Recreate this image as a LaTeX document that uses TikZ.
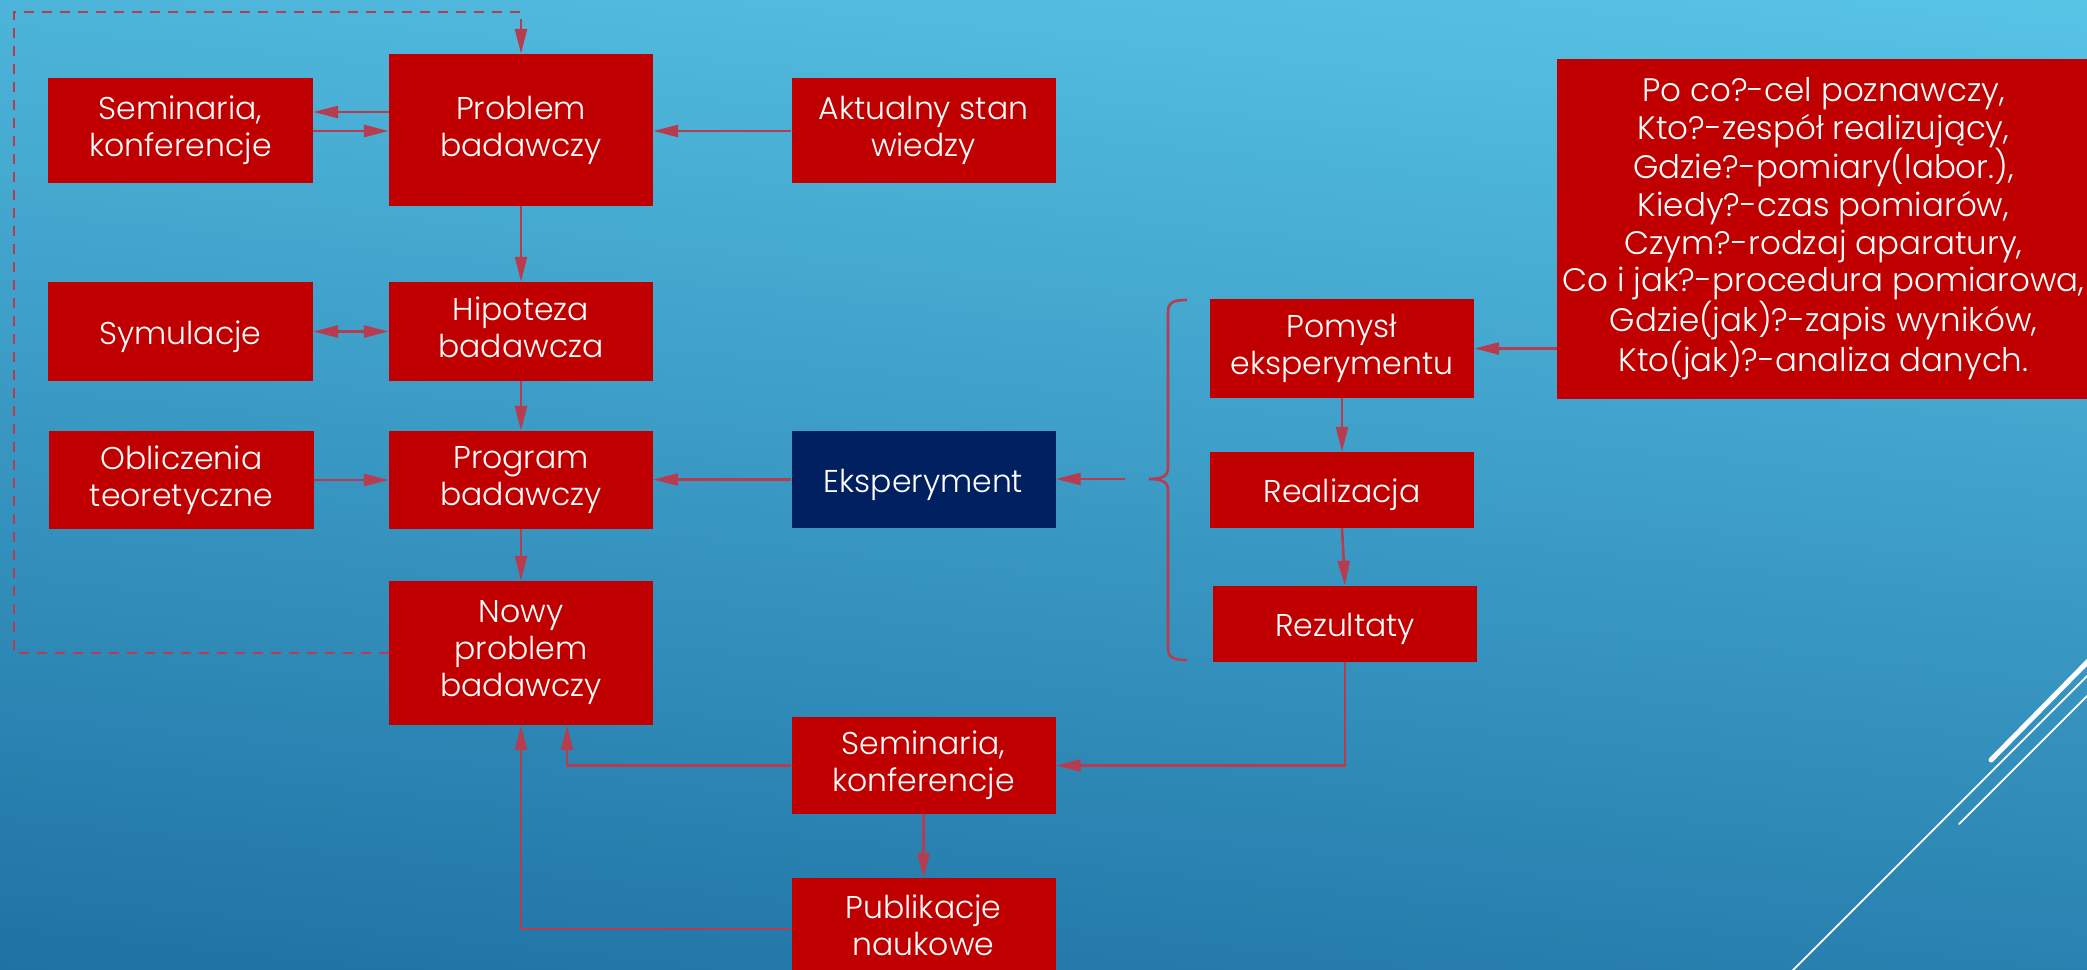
\documentclass[tikz,border=0pt]{standalone}
\usepackage{fontspec}
\setmainfont{Poppins Light}
\usetikzlibrary{arrows.meta}
\definecolor{boxred}{RGB}{192,0,0}
\definecolor{boxnavy}{RGB}{0,32,96}
\definecolor{linkred}{RGB}{184,60,80}
\definecolor{bgtop}{RGB}{88,196,230}
\definecolor{bgbot}{RGB}{30,114,164}
\begin{document}
\begin{tikzpicture}[x=1pt,y=-1pt,
  boxbase/.style={fill=boxred, text=white, align=center, inner sep=0pt,
    font=\fontsize{31.5}{37}\selectfont},
  box/.style={boxbase,
    execute at begin node={\rule{0pt}{34pt}},
    execute at end node={\rule[-8pt]{0pt}{8pt}}},
  bigtext/.style={font=\fontsize{32.5}{37.7}\selectfont},
  navybox/.style={box, fill=boxnavy},
  link/.style={draw=linkred, line width=2.6pt, -{Triangle[length=25pt,width=12pt]}},
  dlink/.style={link, {Triangle[length=25pt,width=12pt]}-{Triangle[length=25pt,width=12pt]}},
  dashlink/.style={link, dash pattern=on 10pt off 8pt},
  bracestyle/.style={draw=linkred, line width=2.6pt},
  deco/.style={draw=white, line cap=round}]
\useasboundingbox (0,0) rectangle (2087,969);
\clip (0,0) rectangle (2087,969);
\shade[top color=bgtop, bottom color=bgbot, shading angle=-6] (-60,-60) rectangle (2147,1029);

% decorative lines
\draw[deco, line width=5pt] (1991,760) -- (2110,639);
\draw[deco, line width=1.8pt] (1790,973) -- (2110,653);
\draw[deco, line width=1.8pt] (1959,824) -- (2110,673);

% boxes
\node[box, minimum width=265pt, minimum height=105pt] (sem1) at (180.5,130.5) {Seminaria,\\konferencje};
\node[box, minimum width=264pt, minimum height=152pt] (prob) at (521,130) {Problem\\badawczy};
\node[box, minimum width=264pt, minimum height=105pt] (akt) at (923.5,130) {Aktualny stan\\wiedzy};
\node[boxbase, bigtext, minimum width=533pt, minimum height=340pt] (poco) at (1823.5,228.5) {Po co?-cel poznawczy,\\Kto?-zespół realizujący,\\Gdzie?-pomiary(labor.),\\Kiedy?-czas pomiarów,\\Czym?-rodzaj aparatury,\\Co i jak?-procedura pomiarowa,\\Gdzie(jak)?-zapis wyników,\\Kto(jak)?-analiza danych.};
\node[box, minimum width=265pt, minimum height=99pt] (sym) at (180.5,331.5) {Symulacje};
\node[box, minimum width=264pt, minimum height=99pt] (hip) at (521,331.5) {Hipoteza\\badawcza};
\node[box, minimum width=264pt, minimum height=99pt] (pom) at (1342,348.5) {Pomysł\\eksperymentu};
\node[box, minimum width=265pt, minimum height=98pt] (obl) at (181.5,480) {Obliczenia\\teoretyczne};
\node[box, minimum width=264pt, minimum height=98pt] (prog) at (521,480) {Program\\badawczy};
\node[navybox, minimum width=264pt, minimum height=97pt] (eks) at (923.5,479.5) {Eksperyment};
\node[box, minimum width=264pt, minimum height=76pt] (real) at (1342,490) {Realizacja};
\node[box, minimum width=264pt, minimum height=144pt] (nowy) at (521,653) {Nowy\\problem\\badawczy};
\node[box, minimum width=264pt, minimum height=76pt] (rez) at (1345,624) {Rezultaty};
\node[box, minimum width=264pt, minimum height=97pt] (sem2) at (923.5,765.5) {Seminaria,\\konferencje};
\node[box, minimum width=264pt, minimum height=102pt] (publ) at (923.5,929) {Publikacje\\naukowe};

% helper coordinates
\coordinate (yA) at (0,112);
\coordinate (yB) at (0,131);
\coordinate (dTL) at (14,12);
\coordinate (brs) at (1125,479);
\coordinate (xC) at (567,0);

% connectors
\draw[link] (prob.west |- yA) -- (sem1.east |- yA);
\draw[link] (sem1.east |- yB) -- (prob.west |- yB);
\draw[link] (akt.west |- yB) -- (prob.east |- yB);
\draw[link] (prob.south) -- (hip.north);
\draw[dlink] (sym.east) -- (hip.west);
\draw[link] (hip.south) -- (prog.north);
\draw[link] (obl.east) -- (prog.west);
\draw[link] (eks.west) -- (prog.east |- eks.west);
\draw[link] (prog.south) -- (nowy.north);
\draw[link] (brs) -- (eks.east |- brs);
\draw[link] (poco.west |- pom.east) -- (pom.east);
\draw[link] (pom.south) -- (real.north);
\draw[link] (real.south) -- (rez.north);
\draw[link] (rez.south) |- (sem2.east);
\draw[link] (sem2.west) -| (xC |- nowy.south);
\draw[link] (sem2.south) -- (publ.north);
\draw[link] (publ.west) -| (nowy.south);
\draw[dashlink] (nowy.west) -| (dTL) -| (prob.north);

% brace
\draw[bracestyle] (1187,300) .. controls (1174,300) and (1168,302) .. (1168,312)
  -- (1168,468) .. controls (1168,476) and (1162,479) .. (1149,479)
  .. controls (1162,479) and (1168,482) .. (1168,490)
  -- (1168,648) .. controls (1168,658) and (1174,660) .. (1187,660);
\end{tikzpicture}
\end{document}
